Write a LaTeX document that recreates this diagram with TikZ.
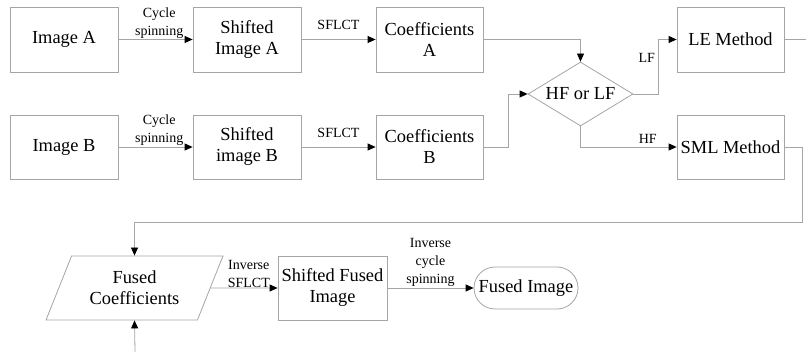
\documentclass[tikz,border=0pt]{standalone}
\usepackage{fontspec}
\setmainfont{Liberation Serif}
\usetikzlibrary{arrows.meta,shapes.geometric,shapes.misc}
\definecolor{lg}{RGB}{165,165,165}
\begin{document}
\begin{tikzpicture}[x=1pt,y=-1pt,
  box/.style={draw=lg, line width=0.8pt, minimum width=108pt, minimum height=65pt, inner sep=2pt, align=center, font=\fontsize{18.4}{21}\selectfont},
  lbl/.style={font=\fontsize{14}{18}\selectfont, align=center, inner sep=1pt},
  arr/.style={draw=lg, line width=0.8pt, -{Triangle[length=8pt,width=7pt,color=black,fill=black]}},
  ln/.style={draw=lg, line width=0.8pt}]
\useasboundingbox (0,0) rectangle (806,352);
\node[box] (imA) at (64,39.5) {Image A};
\node[box] (shA) at (247,39.5) {Shifted\\Image A};
\node[box, minimum width=107pt] (coA) at (429.5,39.5) {Coefficients\\A};
\node[box, minimum width=107pt] (le) at (730.5,39.5) {LE Method};
\node[box, minimum height=64pt] (imB) at (64,147) {Image B};
\node[box, minimum height=64pt] (shB) at (247,147) {Shifted\\image B};
\node[box, minimum width=107pt, minimum height=64pt] (coB) at (429.5,147) {Coefficients\\B};
\node[box, minimum width=107pt, minimum height=64pt] (sml) at (730.5,147) {SML Method};
\node[diamond, draw=lg, line width=0.8pt, aspect=1.64, minimum width=105pt, minimum height=64pt, inner sep=0pt, font=\fontsize{18.4}{21}\selectfont] (dia) at (580.5,94) {HF or LF};
\node[trapezium, trapezium left angle=63.43, trapezium right angle=116.57, trapezium stretches=true, draw=lg, line width=0.8pt, minimum width=177pt, minimum height=64pt, inner sep=2pt, align=center, font=\fontsize{18.4}{21}\selectfont] (fc) at (134.5,288) {Fused\\Coefficients};
\node[box, minimum width=109pt, minimum height=64pt] (sfi) at (332.5,288) {Shifted Fused\\Image};
\node[rounded rectangle, draw=lg, line width=0.8pt, minimum width=108pt, minimum height=42pt, inner sep=2pt, font=\fontsize{18.4}{21}\selectfont] (fi) at (526,288) {Fused Image};
\coordinate (edgeR) at (806,39.5);
\coordinate (botIn) at (135,352);
\coordinate (turn) at (802,222);

\draw[arr] (imA.east) -- node[lbl, above, pos=0.55] {Cycle\\spinning} (shA.west);
\draw[arr] (imB.east) -- node[lbl, above, pos=0.55] {Cycle\\spinning} (shB.west);
\draw[arr] (shA.east) -- node[lbl, above, yshift=8pt] {SFLCT} (coA.west);
\draw[arr] (shB.east) -- node[lbl, above, yshift=8pt] {SFLCT} (coB.west);
\draw[arr] (coA.east) -| (dia.north);
\draw[arr] (coB.east) -- ++(25,0) |- (dia.west);
\draw[arr] (dia.east) -- ++(25,0) |- node[lbl, pos=0.33, left, xshift=-2pt] {LF} (le.west);
\draw[arr] (dia.south) |- node[lbl, pos=0.85, above, yshift=2pt] {HF} (sml.west);
\draw[ln] (le.east) -- (edgeR);
\draw[arr] (sml.east) -| (turn) -| (fc.north);
\draw[arr] (botIn) -- (fc.south);
\draw[arr] (fc.east) -- node[lbl, above, pos=0.57, inner sep=0pt] {Inverse\\SFLCT} (sfi.west);
\draw[arr] (sfi.east) -- node[lbl, above, pos=0.5] {Inverse\\cycle\\spinning} (fi.west);
\end{tikzpicture}
\end{document}
